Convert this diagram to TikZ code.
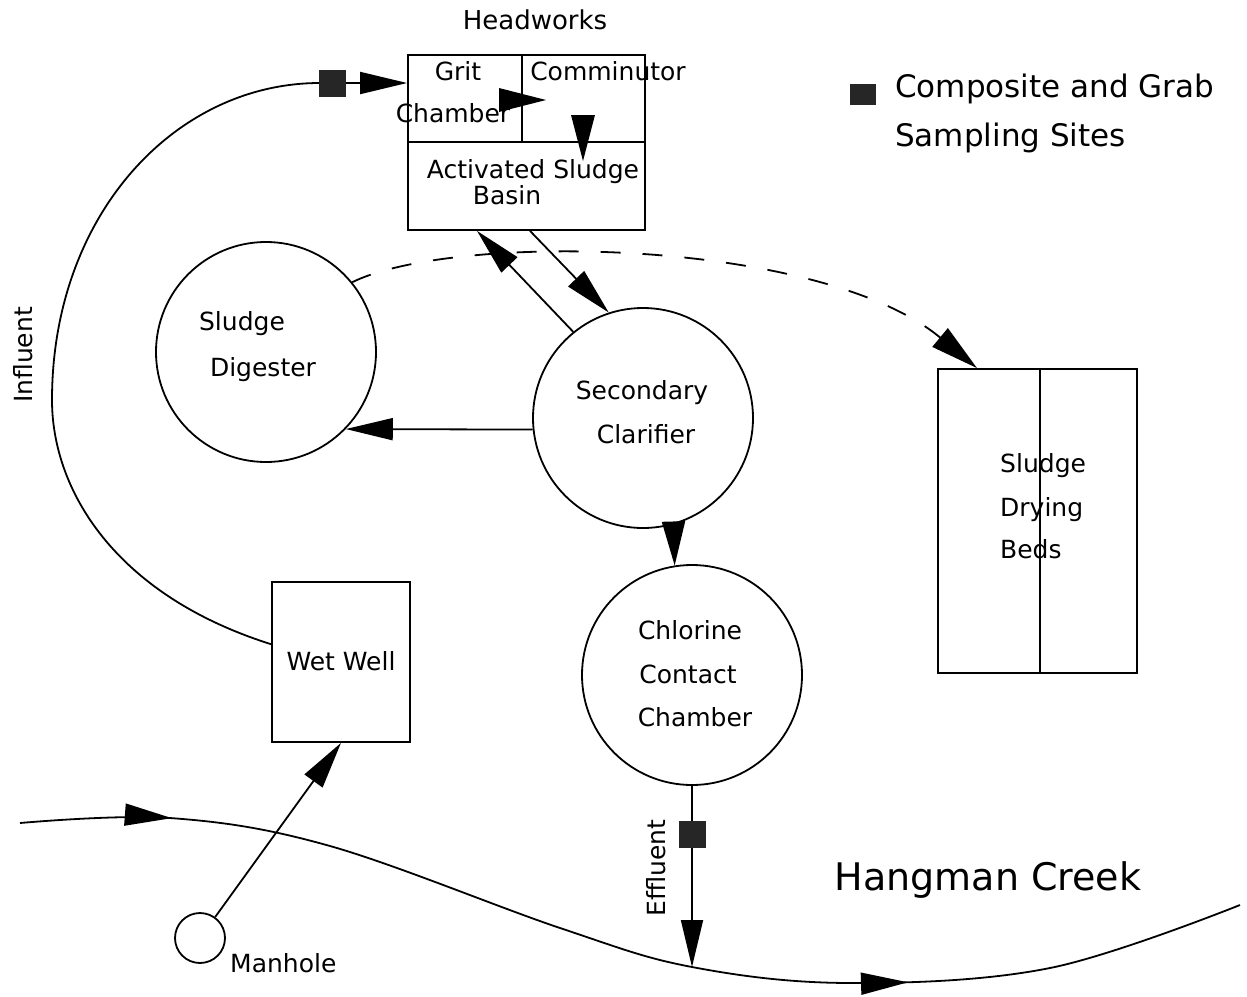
\documentclass[tikz,border=0pt]{standalone}
\usepackage{fontspec}
\setmainfont{DejaVu Sans}
\usetikzlibrary{arrows.meta,decorations.markings,calc}
\begin{document}
\begin{tikzpicture}[x=1pt,y=-1pt,
  lw/.style={line width=1.8pt},
  lbl/.style={font=\fontsize{25}{30}\selectfont, inner sep=0pt, text height=0.72em, text depth=0pt},
  tank/.style={draw, circle, lw, minimum size=220pt, inner sep=0pt},
  boxn/.style={draw, lw, inner sep=0pt},
  tipA/.style={-{Triangle[length=47pt,width=22pt]}},
  flow/.style={lw, tipA},
  sq/.style={fill=black!85, inner sep=0pt, minimum width=27pt, minimum height=27pt},
]
\useasboundingbox (0,0) rectangle (1247,996);

% ---- units ----
\node[boxn, minimum width=237pt, minimum height=175pt] (hw) at (526.5,142.5) {};
\draw[lw] (408,142) -- (645,142);
\draw[lw] (522,55) -- (522,142);
\node[tank] (dig) at (266,352) {};
\node[tank] (sc) at (643,418) {};
\node[tank] (ccc) at (692,675) {};
\node[boxn, minimum width=138pt, minimum height=160pt] (ww) at (341,662) {};
\node[draw, circle, lw, minimum size=50pt, inner sep=0pt] (mh) at (200,938) {};
\node[boxn, minimum width=199pt, minimum height=304pt] (sdb) at (1037.5,521) {};
\draw[lw] (1040,369) -- (1040,673);

% ---- labels ----
\node[lbl, font=\fontsize{26}{30}\selectfont] (t-hw) at (535,26) {Headworks};
\node[lbl] (t-grit) at (458,77) {Grit};
\node[lbl] (t-ch) at (453,119) {Chamber};
\node[lbl] (t-com) at (608,77) {Comminutor};
\node[lbl] (t-as) at (533,175) {Activated Sludge};
\node[lbl] (t-ba) at (507,201) {Basin};
\node[lbl] (t-dig1) at (242,327) {Sludge};
\node[lbl] (t-dig2) at (263,373) {Digester};
\node[lbl] (t-sc1) at (642,396) {Secondary};
\node[lbl] (t-sc2) at (646,440) {Clarifier};
\node[lbl] (t-cc1) at (690,636) {Chlorine};
\node[lbl] (t-cc2) at (688,680) {Contact};
\node[lbl] (t-cc3) at (695,723) {Chamber};
\node[lbl] (t-ww) at (341,667) {Wet Well};
\node[lbl, anchor=west] (t-mh) at (230,969) {Manhole};
\node[lbl, anchor=west] (t-sd1) at (1000,469) {Sludge};
\node[lbl, anchor=west] (t-sd2) at (1000,513) {Drying};
\node[lbl, anchor=west] (t-sd3) at (1000,555) {Beds};
\node[lbl, rotate=90] (t-inf) at (29,355) {Influent};
\node[lbl, rotate=90] (t-eff) at (662,868) {Effluent};
\node[lbl, font=\fontsize{38}{42}\selectfont] (t-hc) at (988,887) {Hangman Creek};
\node[fill=black!85, inner sep=0pt, minimum width=26pt, minimum height=21pt] (leg) at (863,94) {};
\node[lbl, anchor=west, font=\fontsize{31}{34}\selectfont] (t-leg1) at (895,94) {Composite and Grab};
\node[lbl, anchor=west, font=\fontsize{31}{34}\selectfont] (t-leg2) at (895,143) {Sampling Sites};

% ---- creek ----
\coordinate (out) at (692,967);
\draw[lw, postaction={decorate}, decoration={markings,
    mark=at position 152pt with {\arrow{Triangle[length=47pt,width=22pt]}},
    mark=at position 912pt with {\arrow{Triangle[length=47pt,width=22pt]}}}]
  plot[smooth, tension=0.6] coordinates {(20,823) (170,818) (330,846) (560,928) (out) (850,983) (1050,968) (1240,905)};

% ---- connectors ----
\coordinate (wwa) at ($(ww.north west)!0.39!(ww.south west)$);
\draw[flow] (wwa) .. controls (115,595) and (52,490) .. (52,400)
  .. controls (52,215) and (175,83) .. (320,83) -- (hw.west |- 0,83);
\node[sq] (s-inf) at (332,83) {};

\draw[flow] (mh) -- (ww.south);
\draw[flow] (hw.south -| 530,0) -- (sc.108);
\draw[flow] (sc.129.5) -- (hw.south -| 477,0);
\draw[flow] (sc.186) -- (dig.-44.6);
\draw[lw, -{Triangle[length=44pt,width=23pt]}] (sc.-74.7) -- (ccc.99.8);
\draw[flow] (ccc.south) -- (out);
\node[sq] (s-eff) at (692,834) {};

\draw[lw, dash pattern=on 20pt off 22pt, -{Triangle[length=48pt,width=24pt]}]
  (dig.39) .. controls (455,232) and (820,238) .. (sdb.north -| 977,0);

% internal flow arrows in headworks
\coordinate (g1) at (499,100);
\coordinate (g2) at (546,100);
\fill (g1) ++(0,-12) -- (g2) -- ($(g1)+(0,12)$) -- cycle;
\coordinate (c1) at (583,115);
\coordinate (c2) at (583,161);
\fill (c1) ++(-12,0) -- (c2) -- ($(c1)+(12,0)$) -- cycle;
\end{tikzpicture}
\end{document}
